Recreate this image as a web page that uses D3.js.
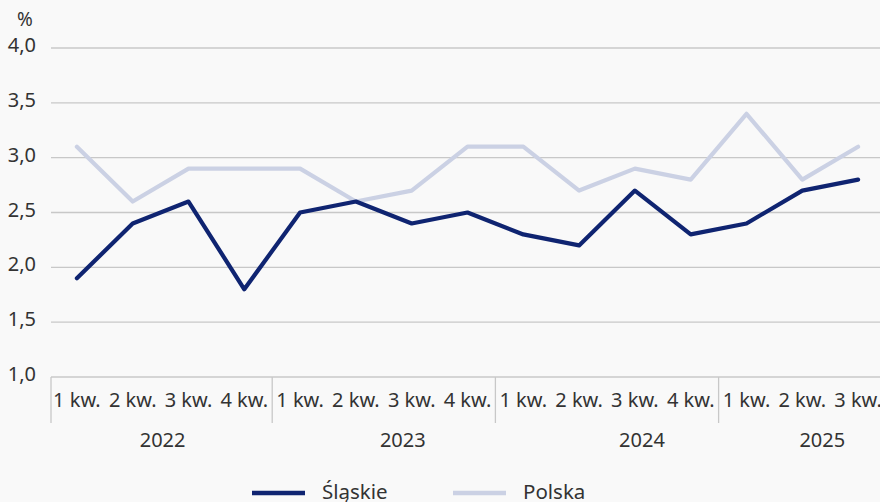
<!DOCTYPE html>
<html><head><meta charset="utf-8">
<script src="https://cdn.jsdelivr.net/npm/d3@7"></script>
<style>
html,body{margin:0;padding:0;background:#f9f9f9;}
svg{display:block;font-family:"Noto Sans",sans-serif;}
</style></head>
<body><svg id="c" width="880" height="502"></svg>
<script>
const years = ["2022","2023","2024","2025"];
const quarters = [["1 kw.","2 kw.","3 kw.","4 kw."],["1 kw.","2 kw.","3 kw.","4 kw."],["1 kw.","2 kw.","3 kw.","4 kw."],["1 kw.","2 kw.","3 kw."]];
const slaskie = [1.9,2.4,2.6,1.8,2.5,2.6,2.4,2.5,2.3,2.2,2.7,2.3,2.4,2.7,2.8];
const polska  = [3.1,2.6,2.9,2.9,2.9,2.6,2.7,3.1,3.1,2.7,2.9,2.8,3.4,2.8,3.1];
const yTicks = [1.0,1.5,2.0,2.5,3.0,3.5,4.0];
const seriesNames = ["Śląskie","Polska"];
const colors = ["#0f2471","#cbd1e4"];

(function(){
const svg = d3.select("#c");
const mLeft = 49, gridLeft = 51, mTop = 48, mBottom = 377, bandW = 55.8;
const fs = 20, txt = "#333";
const yearShift = [2, 19, 35, 20];
const cats = [];
quarters.forEach((qs,yi)=>qs.forEach((q,qi)=>cats.push({y:yi,q:q,id:yi+"-"+qi})));
const x = d3.scaleBand().domain(cats.map(d=>d.id)).range([mLeft,mLeft+bandW*cats.length]).padding(0);
const y = d3.scaleLinear().domain([1,4]).range([mBottom,mTop]);
const fmt = d=>d3.format(".1f")(d).replace(".",",");

svg.append("g").selectAll("line").data(yTicks).join("line")
  .attr("x1",gridLeft).attr("x2",x.range()[1]).attr("y1",d=>y(d)).attr("y2",d=>y(d))
  .attr("stroke","#c8c8c8").attr("stroke-width",1.3);
svg.append("g").selectAll("text").data(yTicks).join("text")
  .attr("x",36).attr("y",d=>y(d)-3).attr("dy","0.35em").attr("text-anchor","end")
  .attr("font-size",fs).attr("fill",txt).text(fmt);
svg.append("text").attr("x",17).attr("y",19).attr("dy","0.35em").attr("font-size",fs-1).attr("fill",txt).text("%");

svg.append("g").selectAll("text").data(cats).join("text")
  .attr("x",d=>x(d.id)+x.bandwidth()/2).attr("y",400).attr("dy","0.35em").attr("text-anchor","middle")
  .attr("font-size",fs).attr("fill",txt).text(d=>d.q);
const groupStarts = years.map((yr,yi)=>x(yi+"-0"));
svg.append("g").selectAll("line").data(groupStarts).join("line")
  .attr("x1",(d,i)=>i===0?gridLeft:d).attr("x2",(d,i)=>i===0?gridLeft:d).attr("y1",mBottom).attr("y2",423)
  .attr("stroke","#c8c8c8").attr("stroke-width",1.3);
svg.append("g").selectAll("text").data(years).join("text")
  .attr("x",(d,i)=>{const ids=cats.filter(c=>c.y===i).map(c=>c.id);return (x(ids[0])+x(ids[ids.length-1])+x.bandwidth())/2+yearShift[i];})
  .attr("y",440).attr("dy","0.35em").attr("text-anchor","middle")
  .attr("font-size",fs).attr("fill",txt).text(d=>d);

const line = d3.line().x((d,i)=>x(cats[i].id)+x.bandwidth()/2).y(d=>y(d));
[polska,slaskie].forEach((s,k)=>{
  svg.append("path").datum(s).attr("d",line).attr("fill","none")
    .attr("stroke",k===0?colors[1]:colors[0]).attr("stroke-width",4.2)
    .attr("stroke-linejoin","round").attr("stroke-linecap","round");
});

const leg = [{n:seriesNames[0],c:colors[0],x:252},{n:seriesNames[1],c:colors[1],x:453}];
const lg = svg.append("g");
leg.forEach(l=>{
  lg.append("line").attr("x1",l.x).attr("x2",l.x+53).attr("y1",493).attr("y2",493).attr("stroke",l.c).attr("stroke-width",4.5);
  lg.append("text").attr("x",l.x+70).attr("y",492).attr("dy","0.35em").attr("font-size",fs+0.5).attr("fill",txt).text(l.n);
});
})();
</script></body></html>
